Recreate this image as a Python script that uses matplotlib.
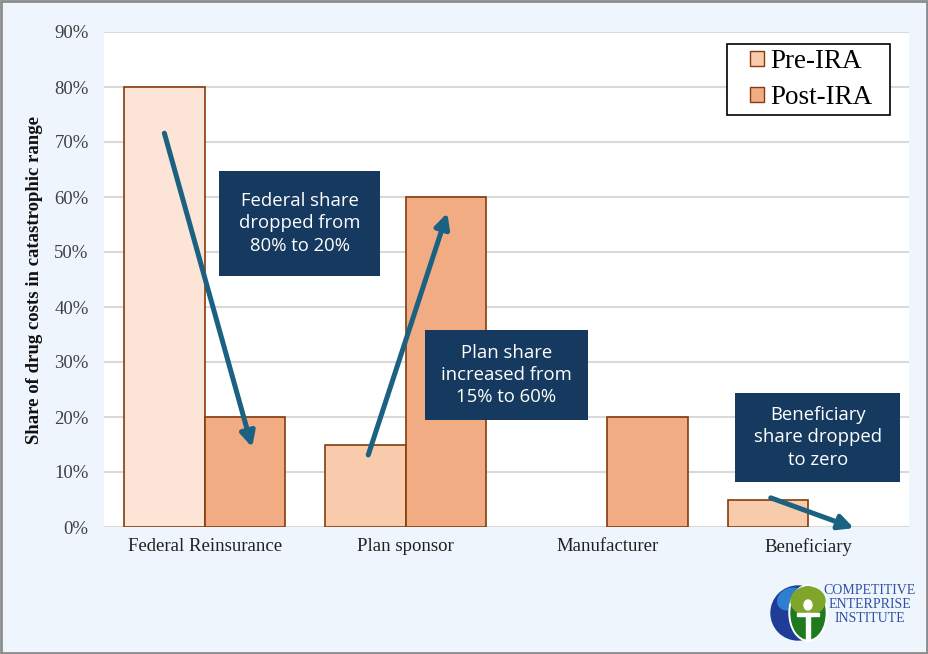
import matplotlib
matplotlib.use("Agg")
import matplotlib.pyplot as plt
from matplotlib.patches import Rectangle, Circle, Ellipse
import numpy as np

# data
categories = ["Federal Reinsurance", "Plan sponsor", "Manufacturer", "Beneficiary"]
pre_ira = [0.80, 0.15, 0.0, 0.05]
post_ira = [0.20, 0.60, 0.20, 0.0]
series_names = ["Pre-IRA", "Post-IRA"]
y_ticks = [0, 0.1, 0.2, 0.3, 0.4, 0.5, 0.6, 0.7, 0.8, 0.9]

# callouts: text, box centre (x, y), box size (w, h)
notes = ["Federal share\ndropped from\n80% to 20%",
         "Plan share\nincreased from\n15% to 60%",
         "Beneficiary\nshare dropped\nto zero"]
note_xy = [(0.473, 0.552), (1.50, 0.276), (3.047, 0.163)]
note_wh = [(0.80, 0.191), (0.81, 0.164), (0.82, 0.162)]

# arrows: tail -> head
arrow_from = [(-0.20, 0.716), (0.813, 0.131), (2.813, 0.053)]
arrow_to = [(0.236, 0.145), (1.206, 0.571), (3.226, -0.002)]

bg = "#EFF5FD"
pre_light = "#FCE4D6"
pre_col = "#F8CBAD"
post_col = "#F2AC84"
edge_col = "#843C0C"
navy = "#163A5F"
arrow_col = "#1A6182"

fig = plt.figure(figsize=(9.29, 6.54), dpi=100, facecolor=bg)
W, H = 929, 654
ax = fig.add_axes([104 / W, (H - 527) / H, 805 / W, 495 / H])
ax.set_facecolor("white")

x = np.arange(len(categories))
bw = 0.4
pre_colors = [pre_light] + [pre_col] * (len(categories) - 1)
pre_lw = [1.2 if v > 0 else 0 for v in pre_ira]
post_lw = [1.2 if v > 0 else 0 for v in post_ira]
ax.bar(x - bw / 2, pre_ira, bw, color=pre_colors, edgecolor=edge_col,
       linewidth=pre_lw, zorder=3, label=series_names[0])
ax.bar(x + bw / 2, post_ira, bw, color=post_col, edgecolor=edge_col,
       linewidth=post_lw, zorder=3, label=series_names[1])

ax.set_xlim(-0.5, len(categories) - 0.5)
ax.set_ylim(0, 0.9)
ax.set_yticks(y_ticks)
ax.set_yticklabels([f"{int(round(t * 100))}%" for t in y_ticks])
ax.set_xticks(x)
ax.set_xticklabels(categories)
ax.yaxis.grid(True, color="#D9D9D9", linewidth=1.5, zorder=0)
ax.set_axisbelow(True)
for s in ax.spines.values():
    s.set_visible(False)
ax.tick_params(axis="both", length=0, labelsize=13.5, labelcolor="#404040")
ax.tick_params(axis="y", pad=11)
ax.tick_params(axis="x", pad=8, labelcolor="#202020")
for lab in ax.get_xticklabels() + ax.get_yticklabels():
    lab.set_family("Liberation Serif")

fig.text(35 / W, 1 - 280 / H, "Share of drug costs in catastrophic range",
         rotation=90, ha="center", va="center", family="Liberation Serif",
         fontsize=13.5, fontweight="bold", color="#111111")

# legend (frame drawn separately so the padding matches)
ax.add_patch(Rectangle((0.774, 0.832), 0.202, 0.144, transform=ax.transAxes,
                       facecolor="white", edgecolor="black", linewidth=1.2,
                       zorder=8))
handles = [Rectangle((0, 0), 1, 1, facecolor=pre_col, edgecolor=edge_col),
           Rectangle((0, 0), 1, 1, facecolor=post_col, edgecolor=edge_col)]
leg = ax.legend(handles, series_names, loc="center",
                bbox_to_anchor=(0.879, 0.904), frameon=False,
                prop={"family": "Liberation Serif", "size": 19.5},
                handlelength=0.5, handleheight=0.5, handletextpad=0.25,
                borderpad=0, labelspacing=0.4, borderaxespad=0)
leg.set_zorder(9)

# arrows
for a, b in zip(arrow_from, arrow_to):
    ax.annotate("", xy=b, xytext=a,
                arrowprops=dict(arrowstyle="-|>", color=arrow_col, lw=3.6,
                                mutation_scale=22, shrinkA=0, shrinkB=0),
                zorder=5, annotation_clip=False)

# callout boxes
for txt, (cx, cy), (w, h) in zip(notes, note_xy, note_wh):
    ax.add_patch(Rectangle((cx - w / 2, cy - h / 2), w, h, facecolor=navy,
                           edgecolor="none", zorder=6, clip_on=False))
    ax.text(cx, cy, txt, ha="center", va="center", color="white",
            fontsize=13.3, family="Open Sans", linespacing=1.3, zorder=7)

# logo (rough)
lax = fig.add_axes([768 / W, (H - 644) / H, 60 / W, 64 / H])
lax.set_xlim(768, 828)
lax.set_ylim(644, 580)
lax.set_aspect("equal")
lax.axis("off")
lax.add_patch(Circle((798, 613), 27, color="#1F3C96"))
lax.add_patch(Ellipse((790, 599), 26, 20, angle=-30, color="#2F7FD0"))
lax.add_patch(Ellipse((808, 613), 38, 56, color="white"))
lax.add_patch(Ellipse((808, 613), 34, 52, color="#1F7A1F"))
lax.add_patch(Ellipse((808, 601), 34, 28, color="#7FA62A"))
lax.add_patch(Ellipse((808, 605), 8, 10, color="white"))
lax.add_patch(Rectangle((806, 613), 4, 26, color="white"))
lax.add_patch(Rectangle((797, 613), 22, 3, color="white"))
for i, word in enumerate(["COMPETITIVE", "ENTERPRISE", "INSTITUTE"]):
    fig.text(870 / W, 1 - (591 + 14 * i) / H, word, ha="center", va="center",
             family="Liberation Serif", fontsize=10, color="#3050A8")

# outer border
fig.add_artist(Rectangle((0.001, 0.002), 0.997, 0.996, transform=fig.transFigure,
                         fill=False, edgecolor="#8C8C8C", linewidth=2))

fig.savefig("out.png", dpi=100, facecolor=bg)
